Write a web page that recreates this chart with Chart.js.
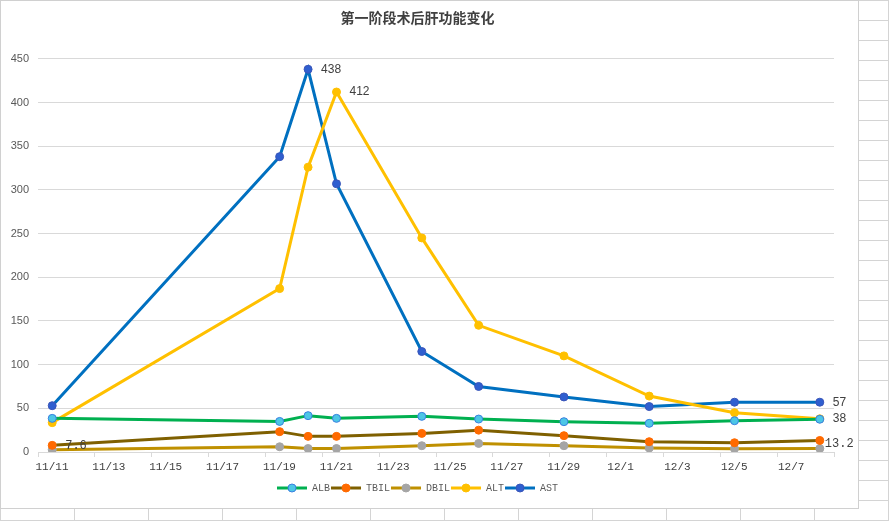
<!DOCTYPE html>
<html>
<head>
<meta charset="utf-8">
<script src="https://cdn.jsdelivr.net/npm/chart.js@4"></script>
<style>
  html, body { margin: 0; padding: 0; }
  body {
    width: 889px; height: 521px; overflow: hidden; position: relative;
    background-color: #fff;
    background-image:
      repeating-linear-gradient(to bottom, #d4d4d4 0, #d4d4d4 1px, transparent 1px, transparent 20px),
      repeating-linear-gradient(to right, #d4d4d4 0, #d4d4d4 1px, transparent 1px, transparent 74px);
  }
  #wrap {
    position: absolute; left: 0; top: 0; width: 857px; height: 507px;
    background: #fff; border: 1px solid #d0d0d0;
  }
</style>
</head>
<body>
<div id="wrap"><canvas id="liverChart"></canvas></div>
<script>
// dates of the samples and the date tick labels
var dates = ['11/11', '11/19', '11/20', '11/21', '11/24', '11/26', '11/29', '12/2', '12/5', '12/8'];
var xTickLabels = ['11/11', '11/13', '11/15', '11/17', '11/19', '11/21', '11/23', '11/25', '11/27', '11/29', '12/1', '12/3', '12/5', '12/7'];

var alb  = [38.5, 35, 41.6, 38.5, 40.8, 37.7, 34.7, 32.8, 35.8, 37.5];
var tbil = [7.6, 23.3, 17.9, 17.9, 21.3, 25, 18.7, 11.8, 10.6, 13.2];
var dbil = [2.6, 6, 4, 4, 7.2, 9.8, 7.2, 4.5, 3.8, 4];
var alt  = [33.6, 187, 326, 412, 245, 145, 110, 64, 45, 38];
var ast  = [53, 338, 438, 307, 115, 75, 63, 52, 57, 57];

// which points carry a value label
var tbilLabels = [0, 9];
var altLabels = [3, 9];
var astLabels = [2, 9];

// days since 11/11
function dayOf(s) {
  var p = s.split('/');
  var m = +p[0], d = +p[1];
  return m === 11 ? d - 11 : 19 + d;
}

function series(vals) {
  return vals.map(function (v, i) { return { x: dayOf(dates[i]), y: v }; });
}

var tickPos = xTickLabels.map(function (l) { return dayOf(l) - 0.5; });
tickPos.push(27.5);

function legendIcon(line, fill, stroke) {
  var c = document.createElement('canvas');
  c.width = 30; c.height = 12;
  var g = c.getContext('2d');
  g.strokeStyle = line; g.lineWidth = 3;
  g.beginPath(); g.moveTo(0, 6); g.lineTo(30, 6); g.stroke();
  g.fillStyle = fill; g.strokeStyle = stroke; g.lineWidth = 1;
  g.beginPath(); g.arc(15, 6, 4, 0, Math.PI * 2); g.fill(); g.stroke();
  return c;
}

function mkSet(label, vals, line, fill, stroke, labels) {
  return {
    label: label,
    data: series(vals),
    borderColor: line,
    backgroundColor: fill,
    borderWidth: 3,
    pointRadius: 4,
    pointHoverRadius: 4,
    pointBackgroundColor: fill,
    pointBorderColor: stroke,
    pointBorderWidth: 1,
    tension: 0,
    icon: legendIcon(line, fill, stroke),
    valueLabels: labels || []
  };
}

var valueLabelPlugin = {
  id: 'valueLabels',
  afterDatasetsDraw: function (chart) {
    var ctx = chart.ctx;
    ctx.save();
    ctx.fillStyle = '#404040';
    ctx.textBaseline = 'middle';
    ctx.textAlign = 'left';
    chart.data.datasets.forEach(function (ds, di) {
      var meta = chart.getDatasetMeta(di);
      ds.valueLabels.forEach(function (i) {
        var pt = meta.data[i];
        var txt = String(ds.data[i].y);
        var mono = txt.indexOf('.') >= 0;
        ctx.font = mono ? '12px "Liberation Mono"' : '12px "Liberation Sans"';
        var dx = mono && i > 0 ? 5 : 13;
        var dy = mono && i > 0 ? 3 : 0;
        ctx.fillText(txt, pt.x + dx, pt.y + dy);
      });
    });
    ctx.restore();
  }
};

var ctx = document.getElementById('liverChart');
var liverChart = new Chart(ctx, {
  type: 'line',
  data: {
    datasets: [
      mkSet('ALB', alb, '#00b050', '#4cc6e6', '#3a7fe0'),
      mkSet('TBIL', tbil, '#7f6000', '#ff6a00', '#ff6a00', tbilLabels),
      mkSet('DBIL', dbil, '#bf9000', '#a5a5a5', '#a5a5a5'),
      mkSet('ALT', alt, '#ffc000', '#ffc000', '#ffc000', altLabels),
      mkSet('AST', ast, '#0070c0', '#2f5fd0', '#3a55b8', astLabels)
    ]
  },
  options: {
    responsive: true,
    maintainAspectRatio: false,
    animation: false,
    layout: { padding: { left: 0, right: 24, top: 0, bottom: 5 } },
    plugins: {
      tooltip: { enabled: false },
      title: {
        display: true,
        text: '第一阶段术后肝功能变化',
        color: '#404040',
        font: { family: '"Noto Sans CJK SC"', size: 14, weight: 'bold', lineHeight: 1.2 },
        padding: { top: 8, bottom: 33 }
      },
      legend: {
        position: 'bottom',
        labels: {
          usePointStyle: true,
          pointStyleWidth: 30,
          boxHeight: 12,
          padding: 1,
          color: '#595959',
          font: { family: '"Liberation Mono"', size: 10 },
          generateLabels: function (chart) {
            return chart.data.datasets.map(function (ds, i) {
              return {
                text: ds.label,
                pointStyle: ds.icon,
                fillStyle: ds.borderColor,
                strokeStyle: ds.borderColor,
                lineWidth: 0,
                hidden: false,
                datasetIndex: i,
                fontColor: '#595959'
              };
            });
          }
        }
      }
    },
    scales: {
      x: {
        type: 'linear',
        min: -0.5,
        max: 27.5,
        afterBuildTicks: function (scale) {
          scale.ticks = tickPos.map(function (v) { return { value: v }; });
        },
        afterFit: function (scale) { scale.height = 30; },
        grid: { drawOnChartArea: false, drawTicks: true, tickLength: 5, color: '#d9d9d9' },
        border: { display: true, color: '#d9d9d9' },
        ticks: {
          autoSkip: false,
          maxRotation: 0,
          labelOffset: 14,
          padding: 3,
          color: '#404040',
          font: { family: '"Liberation Mono"', size: 11 },
          callback: function (v, i) { return xTickLabels[i] || ''; }
        }
      },
      y: {
        min: 0,
        max: 450,
        afterFit: function (scale) { scale.width = 37; },
        grid: { color: '#d9d9d9', drawTicks: false },
        border: { display: false },
        ticks: {
          stepSize: 50,
          padding: 9,
          color: '#595959',
          font: { family: '"Liberation Sans"', size: 11 }
        }
      }
    }
  },
  plugins: [valueLabelPlugin]
});
</script>
</body>
</html>
